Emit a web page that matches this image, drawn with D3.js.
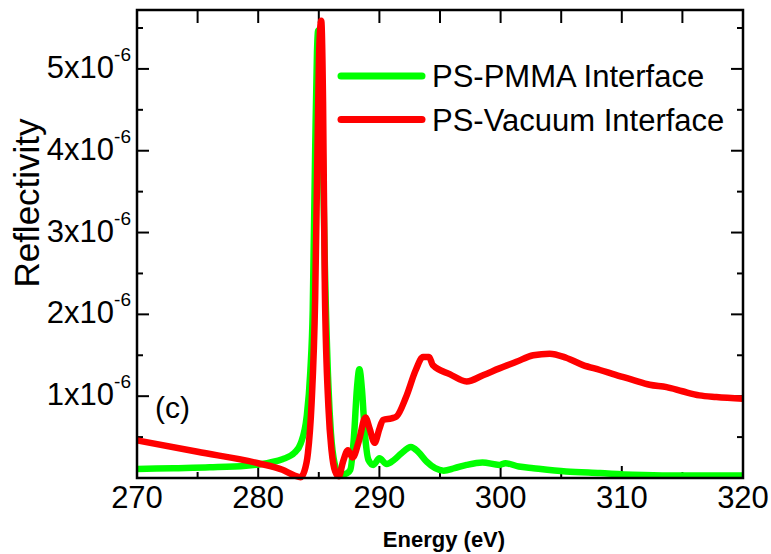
<!DOCTYPE html>
<html>
<head>
<meta charset="utf-8">
<script src="https://cdn.jsdelivr.net/npm/d3@7"></script>
<style>
  body { margin: 0; background: #fff; }
  text { font-family: Arial, "Liberation Sans", sans-serif; fill: #000; }
</style>
</head>
<body>
<div id="chart"></div>
<script>
// reflectivity in units of 1e-6
const pmmaEnergy = [270, 273, 276, 279, 281, 282, 283, 283.5, 284, 284.3, 284.5, 284.7, 284.85, 284.95, 285.1, 285.3, 285.5, 285.8, 286, 286.3, 286.7, 287.2, 287.6, 287.9, 288.15, 288.35, 288.55, 288.8, 289.1, 289.5, 290, 290.6, 291.2, 291.8, 292.6, 293.2, 293.9, 294.6, 295.3, 296.2, 297.2, 298.5, 299.9, 300.4, 301.5, 302.7, 305.4, 308.2, 310.9, 314, 317, 320]
const pmmaRefl = [0.11, 0.12, 0.13, 0.15, 0.19, 0.23, 0.31, 0.42, 0.75, 1.3, 2.05, 4.0, 5.2, 5.47, 5.2, 4.2, 2.6, 1.1, 0.55, 0.18, 0.04, 0.05, 0.1, 0.5, 1.1, 1.33, 1.1, 0.55, 0.22, 0.16, 0.24, 0.17, 0.22, 0.3, 0.38, 0.32, 0.2, 0.12, 0.09, 0.12, 0.16, 0.19, 0.16, 0.18, 0.14, 0.12, 0.08, 0.06, 0.04, 0.03, 0.03, 0.03]

const vacEnergy = [270, 275, 280, 282, 283, 283.5, 283.8, 284.1, 284.4, 284.7, 284.9, 285.05, 285.2, 285.35, 285.5, 285.8, 286.05, 286.35, 286.65, 287, 287.4, 287.8, 288.3, 288.85, 289.2, 289.6, 290, 290.3, 291, 291.4, 292.2, 293, 293.6, 294.1, 294.4, 295.8, 297.2, 298.6, 299.9, 301.3, 302.7, 304.05, 305.4, 306.8, 308.2, 309.5, 310.9, 312.3, 313.7, 315, 316.4, 317.8, 320]
const vacRefl = [0.46, 0.32, 0.18, 0.1, 0.03, 0.01, 0.08, 0.3, 0.9, 2.2, 4.1, 5.3, 5.59, 4.6, 2.3, 0.85, 0.34, 0.08, 0.02, 0.2, 0.34, 0.25, 0.45, 0.74, 0.6, 0.43, 0.6, 0.71, 0.73, 0.75, 0.99, 1.32, 1.48, 1.48, 1.38, 1.27, 1.18, 1.26, 1.34, 1.42, 1.5, 1.52, 1.47, 1.38, 1.32, 1.26, 1.2, 1.14, 1.11, 1.06, 1.01, 0.99, 0.97]

const xTicks = [270, 280, 290, 300, 310, 320]
const yTicks = [1, 2, 3, 4, 5]
const seriesNames = ['PS-PMMA Interface', 'PS-Vacuum Interface']
const seriesColors = ['#00ff00', '#ff0000']

const width = 771
const height = 554
const margin = { top: 10, right: 28, bottom: 76, left: 137 }
const plotW = width - margin.left - margin.right
const plotH = height - margin.top - margin.bottom

const svg = d3.select('#chart')
  .append('svg')
  .attr('width', width)
  .attr('height', height)

const x = d3.scaleLinear().domain([270, 320]).range([margin.left, margin.left + plotW])
const y = d3.scaleLinear().domain([0, 5.72]).range([margin.top + plotH, margin.top])

const xMinor = d3.range(270, 321, 5)
const yMinor = d3.range(0.5, 5.6, 1)

// ticks, all pointing inward
const ticks = svg.append('g').attr('stroke', '#000').attr('stroke-width', 2)
xMinor.forEach(v => {
  const len = v % 10 === 0 ? 12 : 6
  ticks.append('line').attr('x1', x(v)).attr('x2', x(v)).attr('y1', y(0)).attr('y2', y(0) - len)
  ticks.append('line').attr('x1', x(v)).attr('x2', x(v)).attr('y1', margin.top).attr('y2', margin.top + 13)
})
yTicks.concat(yMinor).forEach(v => {
  const len = Number.isInteger(v) ? 12 : 6
  ticks.append('line').attr('x1', x(270)).attr('x2', x(270) + len).attr('y1', y(v)).attr('y2', y(v))
  ticks.append('line').attr('x1', x(320)).attr('x2', x(320) - len).attr('y1', y(v)).attr('y2', y(v))
})

// curves
const line = d3.line()
  .x(d => x(d[0]))
  .y(d => y(d[1]))
  .curve(d3.curveMonotoneX)

const series = [
  d3.zip(pmmaEnergy, pmmaRefl),
  d3.zip(vacEnergy, vacRefl)
]

svg.append('g')
  .selectAll('path')
  .data(series)
  .enter()
  .append('path')
  .attr('d', line)
  .attr('fill', 'none')
  .attr('stroke', (d, i) => seriesColors[i])
  .attr('stroke-width', 6.5)
  .attr('stroke-linejoin', 'round')

// frame
svg.append('rect')
  .attr('x', margin.left)
  .attr('y', margin.top)
  .attr('width', plotW)
  .attr('height', plotH)
  .attr('fill', 'none')
  .attr('stroke', '#000')
  .attr('stroke-width', 2.5)

// tick labels
svg.append('g')
  .selectAll('text')
  .data(xTicks)
  .enter()
  .append('text')
  .attr('x', d => x(d))
  .attr('y', 508)
  .attr('text-anchor', 'middle')
  .style('font-size', '31px')
  .text(d => d)

const yLab = svg.append('g')
  .selectAll('text')
  .data(yTicks)
  .enter()
  .append('text')
  .attr('x', x(270) - 6)
  .attr('y', d => y(d) + 9)
  .attr('text-anchor', 'end')
  .style('font-size', '31px')
yLab.append('tspan').text(d => d + 'x10')
yLab.append('tspan').attr('dy', -17).style('font-size', '19px').text('-6')

// axis titles
svg.append('text')
  .attr('transform', 'translate(39,203) rotate(-90)')
  .attr('text-anchor', 'middle')
  .style('font-size', '35px')
  .text('Reflectivity')

svg.append('text')
  .attr('x', 444)
  .attr('y', 547)
  .attr('text-anchor', 'middle')
  .style('font-size', '22px')
  .style('font-weight', 'bold')
  .text('Energy (eV)')

svg.append('text')
  .attr('x', 155)
  .attr('y', 418)
  .style('font-size', '30px')
  .text('(c)')

// legend
const legend = svg.append('g')
seriesNames.forEach((name, i) => {
  const ly = 76 + i * 43.5
  legend.append('line')
    .attr('x1', 341).attr('x2', 422)
    .attr('y1', ly).attr('y2', ly)
    .attr('stroke', seriesColors[i])
    .attr('stroke-width', 7)
    .attr('stroke-linecap', 'round')
  legend.append('text')
    .attr('x', 432)
    .attr('y', ly + 11)
    .style('font-size', '31px')
    .text(name)
})
</script>
</body>
</html>
